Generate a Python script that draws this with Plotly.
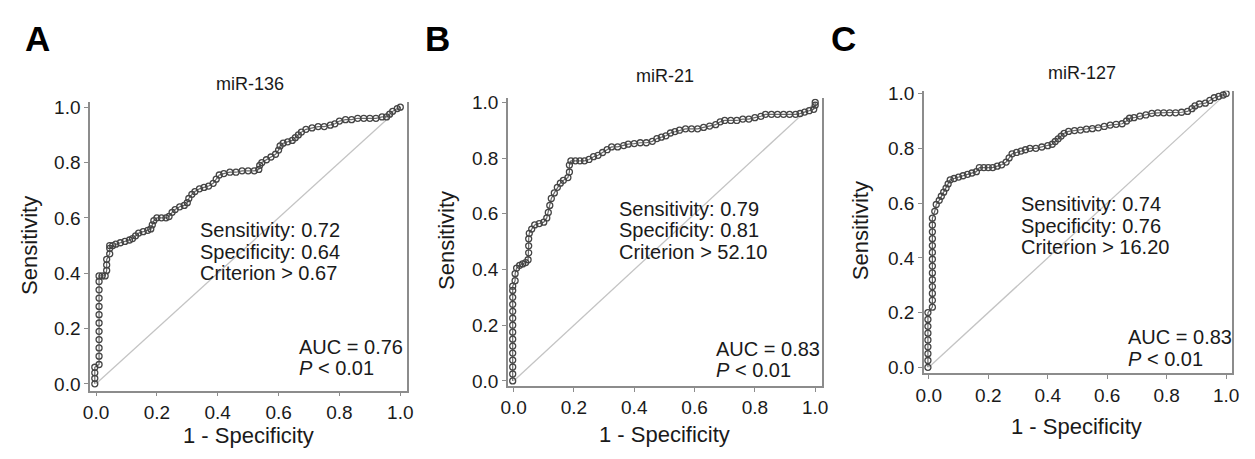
import plotly.graph_objects as go

# ---------------- data ----------------
panel_letters = ["A", "B", "C"]
panel_titles = ["miR-136", "miR-21", "miR-127"]
tick_vals = [0.0, 0.2, 0.4, 0.6, 0.8, 1.0]
tick_text = ["0.0", "0.2", "0.4", "0.6", "0.8", "1.0"]

fpr_136 = [-0.004, -0.004, -0.004, -0.004, 0.01, 0.01, 0.01, 0.01, 0.01, 0.01, 0.01, 0.01, 0.01, 0.01, 0.01, 0.01,
           0.02, 0.03, 0.035, 0.035, 0.035, 0.045, 0.045, 0.045, 0.055, 0.065, 0.08, 0.095, 0.11, 0.12, 0.13, 0.14,
           0.155, 0.17, 0.18, 0.185, 0.19, 0.2, 0.215, 0.23, 0.24, 0.25, 0.26, 0.275, 0.29, 0.30, 0.305, 0.315,
           0.325, 0.34, 0.355, 0.37, 0.385, 0.395, 0.405, 0.42, 0.44, 0.46, 0.48, 0.50, 0.52, 0.535, 0.538, 0.545,
           0.56, 0.575, 0.59, 0.60, 0.605, 0.615, 0.63, 0.645, 0.655, 0.665, 0.675, 0.69, 0.71, 0.73, 0.75, 0.77,
           0.785, 0.80, 0.82, 0.84, 0.86, 0.88, 0.90, 0.92, 0.94, 0.955, 0.965, 0.975, 0.99, 1.0]
tpr_136 = [0.0, 0.02, 0.04, 0.06, 0.07, 0.10, 0.13, 0.16, 0.19, 0.22, 0.25, 0.28, 0.31, 0.34, 0.37, 0.39,
           0.39, 0.39, 0.41, 0.43, 0.45, 0.47, 0.49, 0.50, 0.50, 0.505, 0.51, 0.515, 0.52, 0.525, 0.535, 0.545,
           0.55, 0.555, 0.56, 0.575, 0.59, 0.60, 0.60, 0.60, 0.605, 0.62, 0.63, 0.64, 0.645, 0.655, 0.67, 0.685,
           0.695, 0.705, 0.71, 0.715, 0.725, 0.74, 0.755, 0.76, 0.765, 0.765, 0.77, 0.77, 0.77, 0.775, 0.79, 0.80,
           0.81, 0.82, 0.83, 0.845, 0.86, 0.87, 0.875, 0.88, 0.89, 0.90, 0.91, 0.92, 0.925, 0.93, 0.93, 0.935,
           0.94, 0.95, 0.955, 0.955, 0.96, 0.96, 0.96, 0.96, 0.965, 0.965, 0.975, 0.985, 0.995, 1.0]

fpr_21 = [-0.003] * 15 + [0.005, 0.005, 0.01, 0.02, 0.03, 0.04, 0.048, 0.05, 0.05, 0.05, 0.052, 0.06, 0.07, 0.085,
          0.10, 0.11, 0.115, 0.12, 0.125, 0.135, 0.145, 0.155, 0.165, 0.18, 0.185, 0.185, 0.19, 0.205, 0.22, 0.235,
          0.25, 0.265, 0.28, 0.295, 0.31, 0.325, 0.345, 0.365, 0.38, 0.40, 0.42, 0.44, 0.46, 0.475, 0.49, 0.505,
          0.52, 0.535, 0.55, 0.57, 0.59, 0.61, 0.63, 0.65, 0.67, 0.685, 0.70, 0.72, 0.74, 0.76, 0.78, 0.80, 0.82,
          0.835, 0.855, 0.875, 0.895, 0.915, 0.935, 0.95, 0.965, 0.98, 0.995, 1.0, 1.0]
tpr_21 = [0.0, 0.025, 0.05, 0.075, 0.1, 0.125, 0.15, 0.175, 0.2, 0.225, 0.25, 0.275, 0.3, 0.325, 0.34,
          0.36, 0.385, 0.405, 0.415, 0.42, 0.425, 0.435, 0.46, 0.485, 0.51, 0.53, 0.545, 0.56, 0.565,
          0.57, 0.585, 0.605, 0.63, 0.655, 0.675, 0.695, 0.71, 0.72, 0.73, 0.75, 0.775, 0.79, 0.79, 0.79, 0.79,
          0.795, 0.805, 0.81, 0.82, 0.83, 0.84, 0.84, 0.845, 0.85, 0.852, 0.855, 0.855, 0.86, 0.87, 0.875, 0.88,
          0.89, 0.895, 0.90, 0.905, 0.905, 0.905, 0.91, 0.915, 0.92, 0.93, 0.935, 0.935, 0.935, 0.94, 0.94, 0.945, 0.95,
          0.957, 0.957, 0.957, 0.957, 0.957, 0.957, 0.96, 0.965, 0.97, 0.975, 0.99, 1.0]

fpr_127 = [-0.003] * 9 + [0.012] * 14 + [0.02, 0.025, 0.035, 0.042, 0.05, 0.058, 0.065, 0.072, 0.085, 0.10, 0.115,
           0.13, 0.145, 0.16, 0.17, 0.185, 0.20, 0.215, 0.23, 0.245, 0.26, 0.27, 0.28, 0.295, 0.31, 0.325, 0.34,
           0.36, 0.38, 0.40, 0.415, 0.425, 0.435, 0.445, 0.455, 0.47, 0.49, 0.51, 0.53, 0.55, 0.57, 0.59, 0.61,
           0.63, 0.65, 0.665, 0.675, 0.69, 0.71, 0.73, 0.75, 0.77, 0.79, 0.81, 0.83, 0.85, 0.87, 0.885, 0.895,
           0.91, 0.93, 0.945, 0.96, 0.975, 0.99, 1.0]
tpr_127 = [0.0, 0.025, 0.05, 0.075, 0.1, 0.125, 0.15, 0.175, 0.2,
           0.22, 0.245, 0.27, 0.295, 0.32, 0.345, 0.37, 0.395, 0.42, 0.445, 0.47, 0.495, 0.52, 0.545,
           0.57, 0.595, 0.61, 0.625, 0.64, 0.655, 0.67, 0.685, 0.69, 0.695, 0.70,
           0.705, 0.71, 0.715, 0.73, 0.73, 0.73, 0.73, 0.735, 0.74, 0.75, 0.765, 0.78, 0.785, 0.79, 0.795, 0.80,
           0.80, 0.805, 0.81, 0.815, 0.825, 0.835, 0.845, 0.855, 0.862, 0.865, 0.867, 0.87, 0.872, 0.875, 0.88, 0.885,
           0.888, 0.89, 0.90, 0.91, 0.912, 0.918, 0.922, 0.928, 0.93, 0.93, 0.93, 0.93, 0.932, 0.935, 0.945, 0.955,
           0.962, 0.965, 0.975, 0.985, 0.99, 0.995, 1.0]

curves_fpr = [fpr_136, fpr_21, fpr_127]
curves_tpr = [tpr_136, tpr_21, tpr_127]

sensitivity = ["0.72", "0.79", "0.74"]
specificity = ["0.64", "0.81", "0.76"]
criterion = ["0.67", "52.10", "16.20"]
auc = ["0.76", "0.83", "0.83"]
p_text = ["0.01", "0.01", "0.01"]

# ---------------- layout geometry (page pixels) ----------------
PAGE_W, PAGE_H = 1255, 459
OFF = 8                      # default body margin of the page
W, H = PAGE_W - 2 * OFF, PAGE_H - 2 * OFF   # figure fits the window exactly

geo = [
    dict(l=83, r=404, x0=89, x1=397, t=98, b=395, y1=103, y0=388,
         letter=(30, 32), title=(245, 79), xt=(243, 441), yt=(21, 245), ann=(192, 230), auc=(292, 350)),
    dict(l=506, r=824, x0=511.7, x1=817, t=94, b=390, y1=98, y0=385,
         letter=(435, 32), title=(665, 71), xt=(664, 440), yt=(443, 240), ann=(616, 208), auc=(715, 352)),
    dict(l=927, r=1239, x0=932, x1=1233, t=86, b=377, y1=89, y0=371,
         letter=(846, 32), title=(1087, 68), xt=(1082, 432), yt=(863, 230), ann=(1023, 203), auc=(1132, 340)),
]

def px(x):
    return (x - OFF) / W

def py(y):
    return 1 - (y - OFF) / H

FONT = "Liberation Sans, Arial, sans-serif"
TXT = "#1a1a1a"
AX = "#8c8c8c"

fig = go.Figure()
annotations = []
layout = {}

for i, g in enumerate(geo):
    n = "" if i == 0 else str(i + 1)
    xs = (g["x1"] - g["x0"])
    ys = (g["y0"] - g["y1"])
    xr = [(g["l"] - g["x0"]) / xs, 1 + (g["r"] - g["x1"]) / xs]
    yr = [-(g["b"] - g["y0"]) / ys, 1 + (g["y1"] - g["t"]) / ys]
    layout["xaxis" + n] = dict(
        domain=[px(g["l"]), px(g["r"])], range=xr, anchor="y" + n,
        showgrid=False, zeroline=False, showline=True, linecolor=AX, linewidth=1.5,
        ticks="outside", ticklen=4, tickcolor=AX, tickwidth=1.2,
        tickvals=tick_vals, ticktext=tick_text,
        tickfont=dict(family=FONT, size=19, color=TXT), fixedrange=True)
    layout["yaxis" + n] = dict(
        domain=[py(g["b"]), py(g["t"])], range=yr, anchor="x" + n,
        showgrid=False, zeroline=False, showline=True, linecolor=AX, linewidth=1.5, mirror=True,
        ticks="outside", ticklen=4, tickcolor=AX, tickwidth=1.2,
        tickvals=tick_vals, ticktext=tick_text,
        tickfont=dict(family=FONT, size=19, color=TXT), fixedrange=True)

    # diagonal reference line
    fig.add_trace(go.Scatter(x=[tick_vals[0], tick_vals[-1]], y=[tick_vals[0], tick_vals[-1]],
                             mode="lines", line=dict(color="#c4c4c4", width=1.3),
                             xaxis="x" + n, yaxis="y" + n, showlegend=False, hoverinfo="skip"))
    # ROC curve
    fig.add_trace(go.Scatter(x=curves_fpr[i], y=curves_tpr[i], mode="lines+markers",
                             line=dict(color="#6a6a6a", width=1.2),
                             marker=dict(symbol="circle-open", size=6, color="#454545",
                                         line=dict(width=1.3, color="#454545")),
                             xaxis="x" + n, yaxis="y" + n, showlegend=False))

    # texts
    lx, ly = g["letter"]
    annotations.append(dict(text="<b>" + panel_letters[i] + "</b>", x=px(lx), y=py(ly), xref="paper", yref="paper",
                            xanchor="center", yanchor="middle", showarrow=False,
                            font=dict(family=FONT, size=35, color="#000000")))
    tx, ty = g["title"]
    annotations.append(dict(text=panel_titles[i], x=px(tx), y=py(ty), xref="paper", yref="paper",
                            xanchor="center", yanchor="middle", showarrow=False,
                            font=dict(family=FONT, size=18, color=TXT)))
    xx, xy = g["xt"]
    annotations.append(dict(text="1 - Specificity", x=px(xx), y=py(xy), xref="paper", yref="paper",
                            xanchor="center", yanchor="middle", showarrow=False,
                            font=dict(family=FONT, size=22, color=TXT)))
    yx, yy = g["yt"]
    annotations.append(dict(text="Sensitivity", x=px(yx), y=py(yy), xref="paper", yref="paper",
                            xanchor="center", yanchor="middle", showarrow=False, textangle=-90,
                            font=dict(family=FONT, size=22, color=TXT)))
    ax_, ay_ = g["ann"]
    lines = ["Sensitivity: " + sensitivity[i], "Specificity: " + specificity[i], "Criterion &gt; " + criterion[i]]
    for k, t in enumerate(lines):
        annotations.append(dict(text=t, x=px(ax_), y=py(ay_ + 22 * k), xref="paper", yref="paper",
                                xanchor="left", yanchor="middle", showarrow=False,
                                font=dict(family=FONT, size=20, color=TXT)))
    ux, uy = g["auc"]
    annotations.append(dict(text="AUC = " + auc[i], x=px(ux), y=py(uy), xref="paper", yref="paper",
                            xanchor="left", yanchor="middle", showarrow=False,
                            font=dict(family=FONT, size=20, color=TXT)))
    annotations.append(dict(text="<i>P</i> &lt; " + p_text[i], x=px(ux), y=py(uy + 22), xref="paper", yref="paper",
                            xanchor="left", yanchor="middle", showarrow=False,
                            font=dict(family=FONT, size=20, color=TXT)))

fig.update_layout(width=W, height=H, margin=dict(l=0, r=0, t=0, b=0),
                  paper_bgcolor="white", plot_bgcolor="white",
                  annotations=annotations, **layout)

fig.write_html("out.html", config={"displayModeBar": False})
